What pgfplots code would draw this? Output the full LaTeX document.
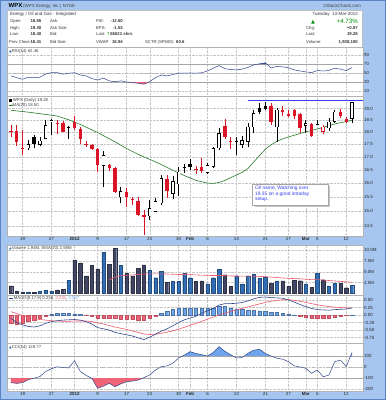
\documentclass[border=0pt]{standalone}
\usepackage{fontspec}
\setmainfont{Liberation Sans}
\newfontfamily\sym{DejaVu Sans}
\usepackage{pgfplots}
\pgfplotsset{compat=1.18}

\definecolor{bgblue}{RGB}{166,198,240}
\definecolor{frameblue}{RGB}{90,130,200}
\definecolor{cred}{RGB}{220,20,40}
\definecolor{magreen}{RGB}{40,120,40}
\definecolor{hlblue}{RGB}{50,60,240}
\definecolor{voldark}{RGB}{64,70,100}
\definecolor{volblue}{RGB}{50,110,180}
\definecolor{emared}{RGB}{240,90,110}
\definecolor{indline}{RGB}{50,70,140}
\definecolor{histblue}{RGB}{110,165,235}
\definecolor{histred}{RGB}{240,100,120}
\definecolor{upgreen}{RGB}{0,140,0}

\newcommand\fs[1]{\fontsize{#1}{#1}\selectfont}

% i, O, H, L, C, colour
\newcommand\cf[6]{%
 \addplot[#6, line width=0.6bp, forget plot] coordinates {(#1,#4) (#1,#3)};
 \addplot[#6, line width=3.4bp, forget plot] coordinates {(#1,#2) (#1,#5)};}
\newcommand\ch[6]{%
 \addplot[#6, line width=0.6bp, forget plot] coordinates {(#1,#4) (#1,#3)};
 \addplot[#6, line width=3.4bp, forget plot] coordinates {(#1,#2) (#1,#5)};
 \addplot[white, line width=2.2bp, shorten <=0.6bp, shorten >=0.6bp, forget plot] coordinates {(#1,#2) (#1,#5)};}

\pgfplotsset{
 panel/.style={
  scale only axis, width=355.5bp, anchor=north west,
  xmin=-0.6, xmax=60.9,
  axis line style={draw=gray!60, line width=0.5bp},
  axis background/.style={fill=white},
  major tick length=0pt,
  xtick={2,7,11,15,20,24,29,31,34,39,44,48,51,53,58},
  xticklabels={},
  xmajorgrids, ymajorgrids,
  major grid style={densely dotted, gray!45, line width=0.4bp},
  yticklabel pos=right,
  yticklabel style={font=\fs{4.5}, text=black!85, anchor=west, inner sep=1bp},
  xticklabel style={font=\fs{4.5}, text=black!85, inner sep=1.5bp},
  /pgf/number format/assume math mode=true,
  clip=true,
 },
 datelabels/.style={xticklabels={19,27,\textbf{2012},9,17,23,30,\textbf{Feb},6,13,21,27,\textbf{Mar},5,12}},
}

\begin{document}
\begin{tikzpicture}
\useasboundingbox (0bp,0bp) rectangle (386bp,-400bp);
\begin{scope}[x=1bp,y=-1bp]
\fill[bgblue] (0,0) rectangle (386,400);
\draw[frameblue, line width=0.8bp] (0.4,0.4) rectangle (385.6,399.6);

% ---------- header ----------
\node[anchor=base west, inner sep=0, font=\fs{6}\bfseries] at (8.5,7.2) {WPX};
\node[anchor=base west, inner sep=0, font=\fs{4.5}, text=black!75] at (23,7.2) {(WPX Energy, Inc.) NYSE};
\node[anchor=base east, inner sep=0, font=\fs{4.5}, text=black!75] at (361,7.2) {©StockCharts.com};
\fill[white] (7.5,10) rectangle (362.5,46.8);
\draw[gray!50, line width=0.4bp] (7.5,10) rectangle (362.5,46.8);
\begin{scope}[every node/.style={inner sep=0, font=\fs{4.2}, text=black!80}]
\node[anchor=base west, font=\fs{4.5}] at (10,15.8) {Energy / Oil and Gas - Integrated};
\node[anchor=base east, font=\fs{4.5}] at (358,15.8) {Tuesday \ 13-Mar-2012};
\node[anchor=base west] at (10,22.4) {Open:};
\node[anchor=base east, font=\fs{4.3}\bfseries] at (41.5,22.4) {18.55};
\node[anchor=base west] at (50,22.4) {Ask:};
\node[anchor=base west] at (96,22.4) {P/E:};
\node[anchor=base east, font=\fs{4.3}\bfseries] at (123,22.4) {-12.60};
\node[anchor=base west] at (10,29.1) {High:};
\node[anchor=base east, font=\fs{4.3}\bfseries] at (41.5,29.1) {19.30};
\node[anchor=base west] at (50,29.1) {Ask Size:};
\node[anchor=base west] at (96,29.1) {EPS:};
\node[anchor=base east, font=\fs{4.3}\bfseries] at (123,29.1) {-1.53};
\node[anchor=base west] at (10,35.8) {Low:};
\node[anchor=base east, font=\fs{4.3}\bfseries] at (41.5,35.8) {18.40};
\node[anchor=base west] at (50,35.8) {Bid:};
\node[anchor=base west] at (96,35.8) {Last: {\sym\color{upgreen}↑}\textbf{\fs{4.3}66621 shrs}};
\node[anchor=base west] at (9,43.3) {Prev Close:};
\node[anchor=base east, font=\fs{4.3}\bfseries] at (41.5,43.3) {18.41};
\node[anchor=base west] at (50,43.3) {Bid Size:};
\node[anchor=base west] at (96,43.3) {VWAP:};
\node[anchor=base east, font=\fs{4.3}\bfseries] at (123,43.3) {18.94};
\node[anchor=base west] at (145,43.3) {SCTR (SP500):};
\node[anchor=base west, font=\fs{4.3}\bfseries] at (176,43.3) {60.6};
\node[anchor=base west, font=\fs{5}\sym, text=upgreen] at (311,23) {▲};
\node[anchor=base east, font=\fs{6.2}, text=upgreen] at (358,23) {+4.73\%};
\node[anchor=base west] at (306,29.1) {Chg:};
\node[anchor=base east, font=\fs{4.3}\bfseries] at (358,29.1) {+0.87};
\node[anchor=base west] at (306,35.8) {Last:};
\node[anchor=base east, font=\fs{4.3}\bfseries] at (358,35.8) {19.28};
\node[anchor=base west] at (306,43.3) {Volume:};
\node[anchor=base east, font=\fs{4.3}\bfseries] at (358,43.3) {1,938,180};
\end{scope}
\end{scope}

% ---------- RSI ----------
\begin{axis}[panel, at={(7.5bp,-47bp)}, height=49bp, ymin=-0.5, ymax=108,
  ytick={10,30,50,70,90}, yticklabels={10,30,50,70,90}]
\addplot[gray!70, line width=0.5bp] coordinates {(-1,70) (62,70)};
\addplot[gray!70, line width=0.5bp] coordinates {(-1,30) (62,30)};
\addplot[gray!55, line width=0.5bp, dash dot] coordinates {(-1,50) (62,50)};
\addplot[fill=histred, draw=none] coordinates {(20.4,30)(21,29)(22,27.8)(23,25.6)(23.77,30)} -- cycle;
\addplot[fill=indline, draw=none] coordinates {(42.7,70)(43,70.7)(44,72.9)(44.26,70)} -- cycle;
\addplot[indline, line width=0.5bp] coordinates {
(0,44)(1,40)(2,36.7)(3,41)(4,40)(5,41)(6,48)(7,51.3)(8,51.3)(9,47.8)
(10,50)(11,51)(12,46)(13,44)(14,38)(15,35)(16,39)(17,33)(18,31)(19,33)
(20,30.7)(21,29)(22,27.8)(23,25.6)(24,31.3)(25,40)(26,46)(27,44)(28,47)(29,50)
(30,50)(31,50.5)(32,50)(33,51)(34,55)(35,61)(36,67)(37,60)(38,58)(39,57.4)
(40,59)(41,63)(42,68.4)(43,70.7)(44,72.9)(45,61.7)(46,65)(47,64)(48,62)(49,57.4)
(50,55)(51,53)(52,51.3)(53,55.8)(54,55)(55,55.8)(56,61)(57,59)(58,55.8)(59,62.46)};
\end{axis}

% ---------- Price ----------
\begin{axis}[panel, at={(7.5bp,-96bp)}, height=140bp, ymode=log, ymin=14.16, ymax=19.566,
  ytick={14.5,15,15.5,16,16.5,17,17.5,18,18.5,19},
  yticklabels={14.5,15.0,15.5,16.0,16.5,17.0,17.5,18.0,18.5,19.0}, datelabels]
\addplot[magreen, line width=0.6bp] coordinates {
(0,18.93)(3,18.85)(6,18.75)(8,18.68)(10,18.52)(12,18.32)(15,17.98)(18,17.6)(20,17.33)
(22,17.1)(24,16.9)(26,16.7)(28,16.48)(30,16.28)(32,16.1)(34,16.0)(35,15.99)(36,16.02)
(37,16.1)(38,16.2)(39,16.3)(40,16.4)(41,16.55)(42,16.8)(43,17.05)(44,17.3)(45,17.48)
(46,17.62)(47,17.72)(48,17.8)(49,17.87)(50,17.94)(51,18.01)(52,18.07)(53,18.13)
(54,18.2)(55,18.27)(56,18.34)(57,18.39)(58,18.44)(59,18.5)};
\addplot[hlblue, line width=0.7bp] coordinates {(41,19.35) (62,19.35)};
\cf{0}{18.04}{18.30}{17.81}{18.01}{cred}
\cf{1}{18.04}{18.30}{17.45}{17.60}{cred}
\cf{2}{17.37}{18.09}{17.07}{17.34}{cred}
\ch{3}{17.34}{17.67}{17.27}{17.50}{black}
\cf{4}{17.81}{17.86}{17.34}{17.52}{black}
\ch{5}{17.47}{17.80}{17.43}{17.64}{black}
\ch{6}{17.72}{18.51}{17.70}{18.30}{black}
\ch{7}{18.42}{18.54}{17.88}{18.51}{black}
\cf{8}{18.40}{18.51}{17.94}{18.37}{cred}
\cf{9}{18.37}{18.45}{18.00}{18.01}{cred}
\cf{10}{18.23}{18.26}{17.72}{18.20}{black}
\cf{11}{18.41}{18.66}{18.09}{18.16}{cred}
\cf{12}{18.12}{18.20}{17.50}{17.72}{cred}
\cf{13}{17.53}{17.65}{17.40}{17.50}{cred}
\cf{14}{17.48}{17.52}{17.25}{17.30}{cred}
\cf{15}{17.30}{17.34}{16.43}{16.68}{cred}
\ch{16}{16.65}{17.23}{15.87}{17.06}{black}
\cf{17}{16.68}{16.72}{16.45}{16.57}{cred}
\cf{18}{16.57}{16.60}{15.65}{15.68}{cred}
\ch{19}{15.48}{15.85}{15.27}{15.70}{black}
\cf{20}{15.68}{15.81}{15.15}{15.48}{cred}
\cf{21}{15.42}{15.50}{15.20}{15.39}{cred}
\cf{22}{15.34}{15.50}{14.82}{14.85}{cred}
\cf{23}{14.87}{15.04}{14.20}{14.78}{cred}
\ch{24}{14.82}{15.39}{14.70}{15.10}{black}
\ch{25}{14.98}{15.45}{14.95}{15.34}{black}
\ch{26}{15.27}{16.30}{15.20}{16.18}{black}
\cf{27}{16.15}{16.30}{15.45}{15.71}{cred}
\ch{28}{15.60}{16.26}{15.42}{16.06}{black}
\ch{29}{15.96}{16.60}{15.53}{16.43}{black}
\cf{30}{16.60}{16.72}{16.39}{16.57}{black}
\cf{31}{16.72}{16.90}{16.49}{16.60}{black}
\cf{32}{16.52}{16.65}{16.35}{16.49}{cred}
\cf{33}{16.61}{16.94}{16.39}{16.44}{cred}
\ch{34}{16.39}{16.75}{16.35}{16.68}{black}
\ch{35}{16.61}{17.40}{16.55}{17.34}{black}
\ch{36}{17.34}{18.16}{17.27}{17.95}{black}
\cf{37}{18.26}{18.55}{17.72}{17.81}{cred}
\cf{38}{17.63}{17.81}{17.30}{17.60}{cred}
\cf{39}{17.65}{17.81}{17.06}{17.62}{black}
\ch{40}{17.47}{17.85}{17.35}{17.66}{black}
\ch{41}{17.60}{18.40}{17.40}{18.22}{black}
\ch{42}{18.20}{18.94}{17.95}{18.80}{black}
\cf{43}{19.04}{19.24}{18.76}{18.84}{black}
\cf{44}{19.14}{19.28}{18.94}{19.00}{black}
\cf{45}{19.13}{19.24}{18.30}{18.44}{cred}
\ch{46}{18.20}{19.05}{17.60}{18.95}{black}
\cf{47}{18.94}{19.10}{18.70}{18.84}{cred}
\cf{48}{18.76}{18.94}{18.62}{18.69}{cred}
\cf{49}{18.94}{19.00}{18.55}{18.66}{cred}
\cf{50}{18.75}{18.80}{17.95}{18.18}{cred}
\ch{51}{18.27}{18.50}{17.95}{18.37}{black}
\cf{52}{18.33}{18.37}{17.80}{17.85}{cred}
\cf{53}{18.36}{18.50}{18.28}{18.33}{black}
\ch{54}{18.01}{18.30}{17.90}{18.22}{cred}
\ch{55}{18.16}{18.60}{18.05}{18.44}{black}
\ch{56}{18.44}{18.94}{18.40}{18.87}{black}
\cf{57}{18.84}{19.00}{18.60}{18.69}{cred}
\cf{58}{18.56}{18.63}{18.38}{18.41}{cred}
\ch{59}{18.55}{19.30}{18.40}{19.28}{black}
\end{axis}

% ---------- Volume ----------
\begin{axis}[panel, at={(7.5bp,-245.5bp)}, height=49.5bp, ymin=-0.35, ymax=11.1,
  ytick={2.5,5,7.5,10}, yticklabels={2.5M,5.0M,7.5M,10.0M}]
\addplot[ybar, bar width=3.4bp, bar shift=0pt, fill=voldark, draw=voldark!70!black, line width=0.3bp] coordinates {
(0,1.74)(1,0.58)(2,0.35)(4,0.3)(8,0.85)(9,1.0)(11,7.75)(12,7.1)(13,4.05)(14,6.45)(15,5.7)
(17,6.75)(18,10.45)(20,4.6)(21,4.1)(22,5.8)(23,6.6)(27,2.6)(32,2.75)(33,2.9)(37,4.35)(38,1.6)
(45,2.4)(47,2.9)(48,1.6)(49,3.1)(50,2.95)(52,1.45)(54,3.2)(57,2.3)(58,1.35)};
\addplot[ybar, bar width=3.4bp, bar shift=0pt, fill=volblue, draw=volblue!70!black, line width=0.3bp] coordinates {
(3,0.35)(5,0.45)(6,0.7)(7,0.55)(10,3.05)(16,9.5)(19,6.5)(24,5.3)(25,3.65)(26,5.2)(28,2.8)
(29,2.8)(30,4.6)(31,3.65)(34,2.2)(35,3.65)(36,5.65)(39,4.05)(40,2.2)(41,4.05)(42,4.4)(43,3.45)
(44,3.8)(46,2.75)(51,2.2)(53,4.6)(55,1.75)(56,2.35)(59,1.94)};
\addplot[emared, line width=0.6bp] coordinates {
(17,3.1)(18,3.8)(19,4.1)(20,4.2)(21,4.3)(22,4.4)(23,4.5)(24,4.55)(25,4.55)(26,4.55)(27,4.5)
(28,4.45)(29,4.4)(30,4.4)(31,4.35)(32,4.3)(33,4.25)(34,4.2)(35,4.15)(36,4.15)(37,4.15)(38,4.05)
(39,4.05)(40,4.0)(41,4.0)(42,4.0)(43,3.95)(44,3.9)(45,3.8)(46,3.7)(47,3.6)(48,3.5)(49,3.45)
(50,3.4)(51,3.3)(52,3.2)(53,3.2)(54,3.1)(55,3.0)(56,2.9)(57,2.8)(58,2.7)(59,2.59)};
\end{axis}

% ---------- MACD ----------
\begin{axis}[panel, at={(7.5bp,-295bp)}, height=48bp, ymin=-0.933, ymax=0.667,
  ytick={-0.75,-0.5,-0.25,0,0.25,0.5}, yticklabels={-0.75,-0.50,-0.25,0.00,0.25,0.50}]
\addplot[ybar, bar width=3.4bp, bar shift=0pt, fill=histred, draw=histred!80!black, line width=0.3bp] coordinates {
(0,-0.26)(1,-0.30)(2,-0.28)(3,-0.22)(4,-0.17)(5,-0.11)(6,-0.03)(13,-0.01)(14,-0.03)(15,-0.11)
(16,-0.11)(17,-0.10)(18,-0.12)(19,-0.13)(20,-0.14)(21,-0.15)(22,-0.17)(23,-0.18)(24,-0.12)(25,-0.05)
(50,-0.04)(51,-0.07)(52,-0.10)(53,-0.12)(54,-0.11)(55,-0.10)(56,-0.07)(57,-0.04)(58,-0.02)};
\addplot[ybar, bar width=3.4bp, bar shift=0pt, fill=histblue, draw=histblue!70!black, line width=0.3bp] coordinates {
(7,0.03)(8,0.05)(9,0.05)(10,0.05)(11,0.04)(12,0.02)(26,0.05)(27,0.12)(28,0.18)(29,0.22)(30,0.24)
(31,0.24)(32,0.24)(33,0.23)(34,0.22)(35,0.23)(36,0.28)(37,0.30)(38,0.24)(39,0.20)(40,0.18)(41,0.17)
(42,0.15)(43,0.14)(44,0.13)(45,0.10)(46,0.09)(47,0.06)(48,0.03)(49,0.005)(59,0.007)};
\addplot[emared, line width=0.6bp] coordinates {
(0,0.11)(1,0.05)(2,-0.02)(3,-0.08)(4,-0.12)(5,-0.15)(6,-0.17)(7,-0.19)(8,-0.2)(9,-0.21)
(10,-0.21)(11,-0.2)(12,-0.2)(13,-0.2)(14,-0.22)(15,-0.26)(16,-0.3)(17,-0.35)(18,-0.4)(19,-0.44)
(20,-0.48)(21,-0.53)(22,-0.58)(23,-0.63)(24,-0.65)(25,-0.64)(26,-0.61)(27,-0.57)(28,-0.53)(29,-0.47)
(30,-0.41)(31,-0.34)(32,-0.28)(33,-0.21)(34,-0.14)(35,-0.07)(36,0.0)(37,0.06)(38,0.12)(39,0.17)
(40,0.22)(41,0.27)(42,0.32)(43,0.37)(44,0.42)(45,0.46)(46,0.49)(47,0.51)(48,0.51)(49,0.49)
(50,0.46)(51,0.42)(52,0.38)(53,0.34)(54,0.31)(55,0.28)(56,0.26)(57,0.25)(58,0.24)(59,0.231)};
\addplot[indline, line width=0.6bp] coordinates {
(0,-0.11)(1,-0.25)(2,-0.33)(3,-0.38)(4,-0.40)(5,-0.36)(6,-0.28)(7,-0.22)(8,-0.19)(9,-0.17)
(10,-0.16)(11,-0.15)(12,-0.17)(13,-0.22)(14,-0.30)(15,-0.42)(16,-0.46)(17,-0.50)(18,-0.58)(19,-0.62)
(20,-0.66)(21,-0.70)(22,-0.76)(23,-0.82)(24,-0.74)(25,-0.64)(26,-0.54)(27,-0.46)(28,-0.36)(29,-0.25)
(30,-0.16)(31,-0.10)(32,-0.04)(33,0.06)(34,0.14)(35,0.22)(36,0.33)(37,0.38)(38,0.38)(39,0.39)
(40,0.42)(41,0.47)(42,0.54)(43,0.59)(44,0.60)(45,0.58)(46,0.57)(47,0.56)(48,0.50)(49,0.43)
(50,0.35)(51,0.28)(52,0.22)(53,0.18)(54,0.17)(55,0.16)(56,0.18)(57,0.19)(58,0.20)(59,0.238)};
\end{axis}

% ---------- CCI ----------
\begin{axis}[panel, at={(7.5bp,-343bp)}, height=48bp, ymin=-214, ymax=214,
  ytick={-200,-100,0,100}, yticklabels={-200,-100,0,100}, datelabels]
\addplot[gray!70, line width=0.5bp] coordinates {(-1,100) (62,100)};
\addplot[gray!70, line width=0.5bp] coordinates {(-1,-100) (62,-100)};
\addplot[gray!55, line width=0.5bp, dash dot] coordinates {(-1,0) (62,0)};
\addplot[fill=histred, draw=none] coordinates {(0,-100)(0,-140)(1,-146)(2,-140)(3,-112)(4,-100)} -- cycle;
\addplot[fill=histred, draw=none] coordinates {(13.97,-100)(14,-101)(15,-190)(16,-170)(17,-146)(18,-176)(19,-150)(20,-131)(21,-125)(22,-116)(22.76,-100)} -- cycle;
\addplot[fill=histblue, draw=none] coordinates {(29.74,100)(30,107)(31,137)(32,120)(33,110)(33.83,100)} -- cycle;
\addplot[fill=histblue, draw=none] coordinates {(34.06,100)(35,130)(36,181)(37,140)(38,110)(38.33,100)} -- cycle;
\addplot[fill=histblue, draw=none] coordinates {(40.41,100)(41,122)(42,150)(43,158)(44,120)(44.91,100)} -- cycle;
\addplot[fill=histblue, draw=none] coordinates {(58.77,100)(59,128.77)(59,100)} -- cycle;
\addplot[indline, line width=0.5bp] coordinates {
(0,-140)(1,-146)(2,-140)(3,-112)(4,-100)(5,-85)(6,-40)(7,-15)(8,2)(9,-5)
(10,-8)(11,56)(12,-40)(13,-75)(14,-101)(15,-190)(16,-170)(17,-146)(18,-176)(19,-150)
(20,-131)(21,-125)(22,-116)(23,-95)(24,-70)(25,-27)(26,3)(27,10)(28,33)(29,80)
(30,107)(31,137)(32,120)(33,110)(34,98)(35,130)(36,181)(37,140)(38,110)(39,80)
(40,85)(41,122)(42,150)(43,158)(44,120)(45,98)(46,78)(47,70)(48,47)(49,10)
(50,0)(51,-12)(52,-56)(53,-27)(54,-87)(55,-72)(56,47)(57,62)(58,3)(59,128.77)};
\end{axis}

% ---------- legends and note ----------
\begin{scope}[x=1bp,y=-1bp]
\node[anchor=west, inner sep=0, font=\fs{4.3}, text=black!75] at (9,51) {{\sym\color{volblue}\fs{3.5}▲}RSI(14) 62.46};
\node[anchor=west, inner sep=0, font=\fs{4.3}, text=black!75] at (9,100.5) {\textcolor{black}{\rule{2.5bp}{3bp}} WPX (Daily) 19.28};
\node[anchor=west, inner sep=0, font=\fs{4.3}, text=black!75] at (9,105.6) {\textcolor{magreen}{\rule[1bp]{3.5bp}{0.6bp}}MA(20) 18.50};
\fill[gray!45] (254.5,186) rectangle (330,206.8);
\draw[gray!70, fill=white, line width=0.5bp] (252.7,184.3) rectangle (328.3,205);
\node[anchor=north west, inner sep=0, align=left, font=\fs{4.9}, text=hlblue] at (255,186)
 {Oil name, Watching over\\[0.6bp]19.35 on a good intraday\\[0.6bp]setup.};
\node[anchor=west, inner sep=0, font=\fs{4.3}, text=black!75] at (9,248) {{\sym\color{volblue}\fs{3.5}▲}Volume 1.94M, EMA(20) 2.59M};
\node[anchor=west, inner sep=0, font=\fs{4.3}, text=black!75] at (9,298) {\textcolor{indline}{\rule[1bp]{3.5bp}{0.6bp}} MACD(8,17,9) 0.238, \textcolor{emared}{0.231}, \textcolor{histblue}{0.007}};
\node[anchor=west, inner sep=0, font=\fs{4.3}, text=black!75] at (9,347) {{\sym\color{volblue}\fs{3.5}▲}CCI(14) 128.77};
\end{scope}
\end{tikzpicture}
\end{document}
